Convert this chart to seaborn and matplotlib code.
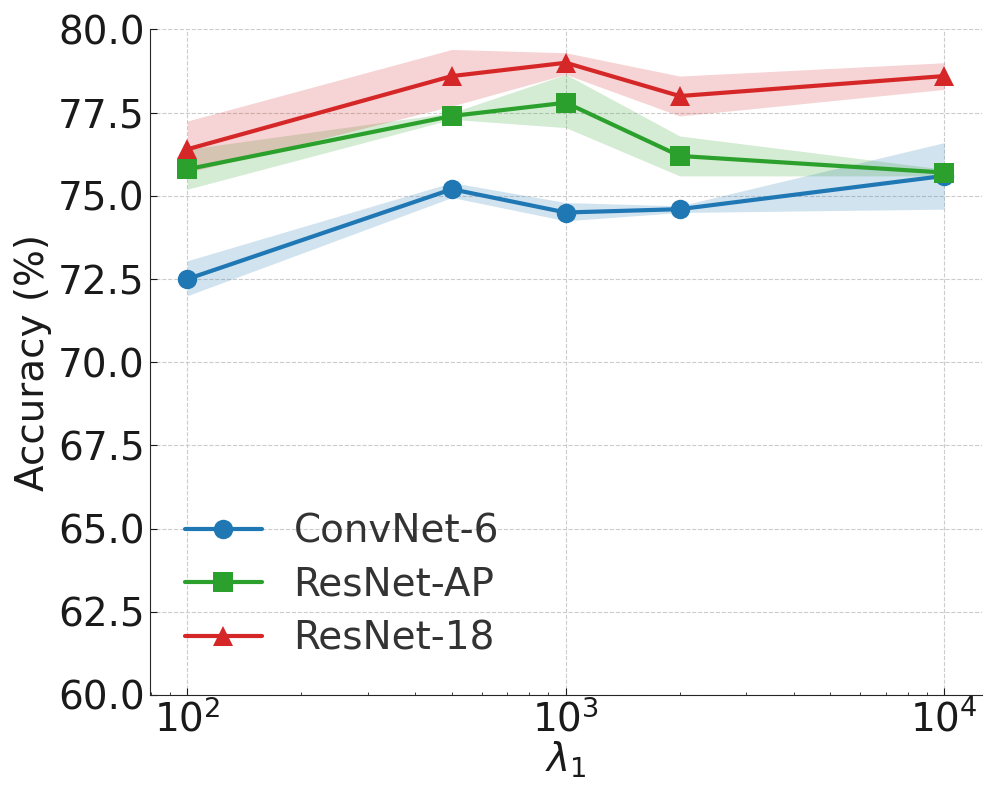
import numpy as np
import pandas as pd
import seaborn as sns
import matplotlib.pyplot as plt

lambdas = [100, 500, 1000, 2000, 10000]
models = ["ConvNet-6", "ResNet-AP", "ResNet-18"]
colors = ["#1f77b4", "#2ca02c", "#d62728"]
markers = ["o", "s", "^"]

convnet_mean = [72.5, 75.2, 74.5, 74.6, 75.6]
convnet_low = [72.0, 74.95, 74.25, 74.5, 74.6]
convnet_high = [73.05, 75.4, 74.8, 74.7, 76.6]

resnet_ap_mean = [75.8, 77.4, 77.8, 76.2, 75.7]
resnet_ap_low = [75.2, 77.3, 77.05, 75.6, 75.6]
resnet_ap_high = [76.4, 77.5, 78.65, 76.8, 75.8]

resnet18_mean = [76.4, 78.6, 79.0, 78.0, 78.6]
resnet18_low = [75.7, 77.7, 78.65, 77.4, 78.2]
resnet18_high = [77.25, 79.4, 79.3, 78.6, 79.0]

means = [convnet_mean, resnet_ap_mean, resnet18_mean]
lows = [convnet_low, resnet_ap_low, resnet18_low]
highs = [convnet_high, resnet_ap_high, resnet18_high]

df = pd.DataFrame({
    "lambda": lambdas * len(models),
    "acc": sum(means, []),
    "model": [m for m in models for _ in lambdas],
})

sns.set_style("ticks")
plt.rcParams["font.family"] = ["DejaVu Sans"]
plt.rcParams["text.color"] = "#1a1a1a"
plt.rcParams["xtick.color"] = "#1a1a1a"
plt.rcParams["ytick.color"] = "#1a1a1a"
plt.rcParams["axes.labelcolor"] = "#1a1a1a"

fig, ax = plt.subplots(figsize=(9.97, 7.97), dpi=100)

for m, c, lo, hi in zip(models, colors, lows, highs):
    ax.fill_between(lambdas, lo, hi, color=c, alpha=0.2, linewidth=0)

sns.lineplot(data=df, x="lambda", y="acc", hue="model", style="model",
             palette=colors, markers=markers, dashes=False, linewidth=3,
             markersize=14, markeredgewidth=0, ax=ax)

ax.set_xscale("log")
ax.set_ylim(60, 80)
ax.set_yticks(np.arange(60, 80.1, 2.5))
ax.grid(True, linestyle="--", color="#cccccc", linewidth=0.8)
ax.tick_params(axis="both", which="both", direction="in", labelsize=28)
ax.tick_params(axis="both", which="major", length=5)
sns.despine(ax=ax)
ax.set_xlabel(r"$\lambda_1$", fontsize=28, labelpad=0)
ax.set_ylabel("Accuracy (%)", fontsize=28)

leg = ax.legend(loc="lower left", fontsize=28, frameon=False,
                bbox_to_anchor=(0.0, 0.004), handlelength=2,
                labelspacing=0.4)
for t in leg.get_texts():
    t.set_color("#333333")

plt.subplots_adjust(left=0.15, right=0.985, top=0.963, bottom=0.128)
fig.savefig("out.png", dpi=100)
